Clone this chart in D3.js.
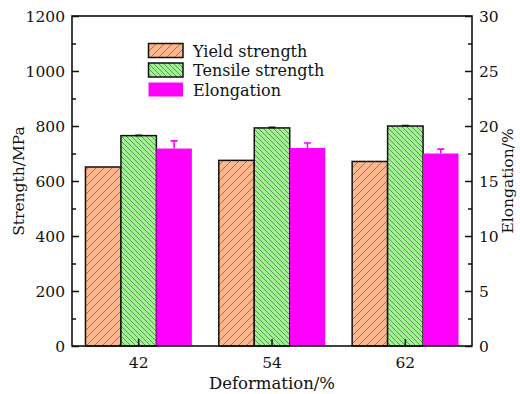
<!DOCTYPE html>
<html><head><meta charset="utf-8">
<script src="https://cdn.jsdelivr.net/npm/d3@7"></script>
<style>
body{margin:0;background:#fff;}
svg text{font-family:"DejaVu Serif",serif;fill:#111;}
</style></head>
<body><svg id="c" width="520" height="394"></svg>
<script>
const categories = ["42","54","62"];
const yieldStrength = [651, 675, 671];
const tensileStrength = [765, 793, 800];
const tensileErr = [1, 2, 2];
const elongation = [17.95, 18.0, 17.5];
const elongationErr = [0.7, 0.45, 0.4];
const leftTicks = [0,200,400,600,800,1000,1200];
const rightTicks = [0,5,10,15,20,25,30];

const FONT='"DejaVu Serif",serif';
const W=520,H=394, m={l:72,r:48,t:16,b:48};
const svg=d3.select("#c");
const defs=svg.append("defs");
function hatch(id, fill, dir, gap){
  const p=defs.append("pattern").attr("id",id).attr("patternUnits","userSpaceOnUse")
    .attr("width",gap).attr("height",gap);
  p.append("rect").attr("width",gap).attr("height",gap).attr("fill",fill);
  const sw=0.8, c="#6a6a6a";
  if(dir>0){
    p.append("path").attr("d",`M0,${gap} L${gap},0 M${-gap/2},${gap/2} L${gap/2},${-gap/2} M${gap/2},${gap*1.5} L${gap*1.5},${gap/2}`)
     .attr("stroke",c).attr("stroke-width",sw);
  } else {
    p.append("path").attr("d",`M0,0 L${gap},${gap} M${-gap/2},${gap/2} L${gap/2},${gap*1.5} M${gap/2},${-gap/2} L${gap*1.5},${gap/2}`)
     .attr("stroke",c).attr("stroke-width",sw);
  }
}
hatch("hy","#FDB78E",1,8);
hatch("ht","#9BF78C",-1,5);

const x=d3.scaleBand().domain(categories).range([m.l,W-m.r]).padding(0);
const series=["y","t","e"];
const x1=d3.scaleBand().domain(series).range([0,x.bandwidth()]).paddingInner(0).paddingOuter(0.38);
const yL=d3.scaleLinear().domain([0,1200]).range([H-m.b,m.t]);
const yR=d3.scaleLinear().domain([0,30]).range([H-m.b,m.t]);

const g=svg.append("g");
categories.forEach((c,i)=>{
  const gx=x(c);
  g.append("rect").attr("x",gx+x1("y")).attr("y",yL(yieldStrength[i]))
    .attr("width",x1.bandwidth()).attr("height",yL(0)-yL(yieldStrength[i]))
    .attr("fill","url(#hy)").attr("stroke","#111").attr("stroke-width",1.5);
  g.append("rect").attr("x",gx+x1("t")).attr("y",yL(tensileStrength[i]))
    .attr("width",x1.bandwidth()).attr("height",yL(0)-yL(tensileStrength[i]))
    .attr("fill","url(#ht)").attr("stroke","#111").attr("stroke-width",1.5);
  g.append("rect").attr("x",gx+x1("e")).attr("y",yR(elongation[i]))
    .attr("width",x1.bandwidth()).attr("height",yR(0)-yR(elongation[i]))
    .attr("fill","#FF00FF");
  const ex=gx+x1("e")+x1.bandwidth()/2;
  g.append("path").attr("d",`M${ex},${yR(elongation[i])} V${yR(elongation[i]+elongationErr[i])} M${ex-3.5},${yR(elongation[i]+elongationErr[i])} H${ex+3.5}`)
    .attr("stroke","#FF00FF").attr("stroke-width",1.6).attr("fill","none");
  const tx=gx+x1("t")+x1.bandwidth()/2;
  g.append("path").attr("d",`M${tx},${yL(tensileStrength[i])} V${yL(tensileStrength[i]+tensileErr[i])} M${tx-3.5},${yL(tensileStrength[i]+tensileErr[i])} H${tx+3.5}`)
    .attr("stroke","#111").attr("stroke-width",1.6).attr("fill","none");
});

svg.append("rect").attr("x",m.l).attr("y",m.t).attr("width",W-m.l-m.r).attr("height",H-m.t-m.b)
  .attr("fill","none").attr("stroke","#111").attr("stroke-width",1.6);

const fs=15.5;
const leftMinor=d3.range(100,1200,200);
const axL=svg.append("g").attr("transform",`translate(${m.l},0)`);
axL.call(d3.axisRight(yL).tickValues(leftTicks).tickSize(7).tickFormat(""));
axL.append("g").call(d3.axisRight(yL).tickValues(leftMinor).tickSize(4).tickFormat(""));
axL.selectAll(".domain").remove();
axL.selectAll("line").attr("stroke","#111").attr("stroke-width",1.5);
svg.append("g").selectAll("text").data(leftTicks).join("text")
  .attr("x",m.l-7).attr("y",d=>yL(d)+5.5).attr("text-anchor","end").attr("font-family",FONT).attr("font-size",fs).text(d=>d);

const rightMinor=[2.5,7.5,12.5,17.5,22.5,27.5];
const axR=svg.append("g").attr("transform",`translate(${W-m.r},0)`);
axR.call(d3.axisLeft(yR).tickValues(rightTicks).tickSize(7).tickFormat(""));
axR.append("g").call(d3.axisLeft(yR).tickValues(rightMinor).tickSize(4).tickFormat(""));
axR.selectAll(".domain").remove();
axR.selectAll("line").attr("stroke","#111").attr("stroke-width",1.5);
svg.append("g").selectAll("text").data(rightTicks).join("text")
  .attr("x",W-m.r+7).attr("y",d=>yR(d)+5.5).attr("text-anchor","start").attr("font-family",FONT).attr("font-size",fs).text(d=>d);

const axB=svg.append("g").attr("transform",`translate(0,${H-m.b})`);
axB.call(d3.axisTop(x).tickSize(7).tickFormat(""));
axB.selectAll(".domain").remove();
axB.selectAll("line").attr("stroke","#111").attr("stroke-width",1.5);
svg.append("g").selectAll("text").data(categories).join("text")
  .attr("x",d=>x(d)+x.bandwidth()/2).attr("y",H-m.b+22).attr("text-anchor","middle").attr("font-family",FONT).attr("font-size",fs).text(d=>d);

svg.append("text").attr("x",(m.l+W-m.r)/2).attr("y",389).attr("text-anchor","middle").attr("font-family",FONT).attr("font-size",16.5).text("Deformation/%");
svg.append("text").attr("transform",`translate(24,${(m.t+H-m.b)/2}) rotate(-90)`).attr("text-anchor","middle").attr("font-family",FONT).attr("font-size",15.5).text("Strength/MPa");
svg.append("text").attr("transform",`translate(513,${(m.t+H-m.b)/2}) rotate(-90)`).attr("text-anchor","middle").attr("font-family",FONT).attr("font-size",15.5).text("Elongation/%");

const legend=[["Yield strength","url(#hy)",true],["Tensile strength","url(#ht)",true],["Elongation","#FF00FF",false]];
const lg=svg.append("g");
legend.forEach((d,i)=>{
  const yy=43.5+i*19.5;
  lg.append("rect").attr("x",148.5).attr("y",yy).attr("width",34.5).attr("height",14)
    .attr("fill",d[1]).attr("stroke",d[2]?"#111":"none").attr("stroke-width",1.5);
  lg.append("text").attr("x",193).attr("y",yy+13).attr("font-family",FONT).attr("font-size",16).text(d[0]);
});
</script></body></html>
